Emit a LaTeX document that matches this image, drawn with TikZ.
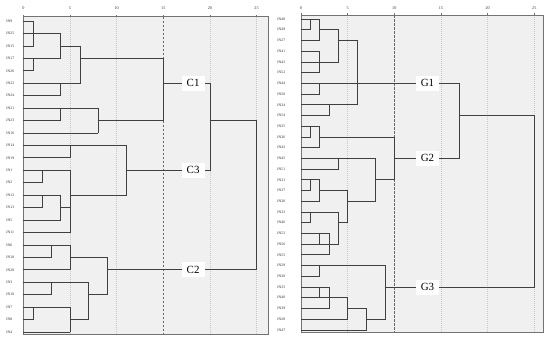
\documentclass[tikz,border=0pt]{standalone}
\usepackage{fontspec}
\setmainfont{Liberation Serif}
\newfontfamily\leaffont{Liberation Serif}
\begin{document}
\begin{tikzpicture}[x=1bp,y=-1bp,
  panelbg/.style={fill=black!6},
  boxline/.style={draw=black!55,line width=0.5bp},
  dline/.style={draw=black!75,line width=0.75bp,line cap=rect},
  gridl/.style={draw=black!22,line width=0.4bp,dash pattern=on 1bp off 1bp},
  cutl/.style={draw=black!60,line width=0.6bp,dash pattern=on 2.5bp off 1.5bp},
  leaflbl/.style={anchor=west,inner sep=0pt,font=\leaffont\fontsize{3.8}{4}\selectfont,text=black!80},
  ticklbl/.style={inner sep=0pt,font=\leaffont\fontsize{4.2}{5}\selectfont,text=black!80},
  grplbl/.style={fill=white,inner sep=0pt,minimum width=23bp,minimum height=15bp,font=\fontsize{11}{12}\selectfont}]
\useasboundingbox (0,0) rectangle (550,338);
\fill[white] (0,0) rectangle (550,338);
% ---------------- left panel ----------------
\begin{scope}[xshift=23.3bp,yshift=-21bp,x=9.33bp,y=-12.44bp]
  \fill[panelbg] (0,-0.346) rectangle (26.2,25.16);
  \foreach \g in {5,10,20,25} \draw[gridl] (\g,-0.346) -- (\g,25.16);
  \draw[cutl] (15,-0.346) -- (15,25.16);
  \draw[boxline] (0,-0.346) rectangle (26.2,25.16);
  \foreach \t in {0,5,10,15,20,25} {
    \draw[draw=black!55,line width=0.4bp] (\t,-0.346) -- (\t,-0.5);
    \node[ticklbl] (LT\t) at (\t,-1.05) {\t};
  }
  \foreach \n [count=\k from 0] in {JN9,JN25,JN15,JN17,JN26,JN22,JN24,JN21,JN23,JN16,JN14,JN19,JN1,JN2,JN12,JN13,JN5,JN11,JN6,JN18,JN20,JN3,JN10,JN7,JN8,JN4}
    \node[leaflbl] (L\k) at (-1.85,\k) {\n};
  \foreach \k/\u in {0/1.1,1/4,2/1.1,3/4,4/1.1,5/6.07,6/4,7/8,8/4,9/8,10/11,11/5,12/5,13/2,14/4,15/2,16/4,17/5,18/5,19/3,20/5,21/7,22/3,23/5,24/1.1,25/5}
    \draw[dline] (0,\k) -- (\u,\k);
  \foreach \u/\a/\b in {1.1/0/2,4/1/3,1.1/3/4,6.07/2/5,4/5/6,4/7/8,8/7/9,15/3/8,5/10/11,11/10/14,2/12/13,5/12/17,2/14/15,4/14/16,3/18/19,5/18/20,9/19/22,3/21/22,7/21/24,1.1/23/24,5/23/25,20/5/12,25/8/20}
    \draw[dline] (\u,\a) -- (\u,\b);
  \foreach \k/\a/\b in {2/4/6.07,3/6.07/15,8/8/15,14/5/11,15/4/5,12/11/20,5/15/20,19/5/9,20/9/25,22/7/9,24/5/7,8/20/25}
    \draw[dline] (\a,\k) -- (\b,\k);
  \node[grplbl] (C1) at (18.2,5) {C1};
  \node[grplbl] (C3) at (18.2,12) {C3};
  \node[grplbl] (C2) at (18.2,20) {C2};
\end{scope}
% ---------------- right panel ----------------
\begin{scope}[xshift=301bp,yshift=-19bp,x=9.33bp,y=-10.72bp]
  \fill[panelbg] (0,-0.373) rectangle (25.97,29.2);
  \foreach \g in {5,15,20,25} \draw[gridl] (\g,-0.373) -- (\g,29.2);
  \draw[cutl] (10,-0.373) -- (10,29.2);
  \draw[boxline] (0,-0.373) rectangle (25.97,29.2);
  \foreach \t in {0,5,10,15,20,25} {
    \draw[draw=black!55,line width=0.4bp] (\t,-0.373) -- (\t,-0.55);
    \node[ticklbl] (RT\t) at (\t,-1.03) {\t};
  }
  \foreach \n [count=\k from 0] in {JN48,JN49,JN27,JN41,JN42,JN52,JN44,JN50,JN34,JN54,JN35,JN36,JN43,JN45,JN51,JN31,JN37,JN30,JN32,JN46,JN53,JN56,JN55,JN29,JN38,JN33,JN40,JN39,JN28,JN47}
    \node[leaflbl] (R\k) at (-2.57,\k) {\n};
  \foreach \k/\u in {0/2,1/1.04,2/2,3/2,4/4,5/2,6/17,7/2,8/6,9/3,10/2,11/1.04,12/2,13/8,14/4,15/2,16/1.04,17/2,18/4,19/1.04,20/3,21/4,22/3,23/9,24/2,25/3,26/5,27/3,28/5,29/7}
    \draw[dline] (0,\k) -- (\u,\k);
  \foreach \u/\a/\b in {1.04/0/1,2/0/2,4/1/4,2/3/5,6/2/8,2/6/7,3/8/9,1.04/10/11,2/10/12,10/11/15,4/13/14,8/13/17,1.04/15/16,2/15/17,5/16/19,1.04/18/19,4/18/21,2/20/21,3/20/22,2/23/24,9/23/28,2/25/26,3/25/27,5/26/28,7/27/29,17/6/13,25/9/25}
    \draw[dline] (\u,\a) -- (\u,\b);
  \foreach \k/\a/\b in {1/2/4,2/4/6,11/2/10,13/10/17,15/8/10,16/2/5,17/5/8,19/4/5,27/5/7,28/7/9,9/17/25,25/9/25}
    \draw[dline] (\a,\k) -- (\b,\k);
  \node[grplbl] (G1) at (13.56,6) {G1};
  \node[grplbl] (G2) at (13.56,13) {G2};
  \node[grplbl] (G3) at (13.56,25) {G3};
\end{scope}
\end{tikzpicture}
\end{document}
